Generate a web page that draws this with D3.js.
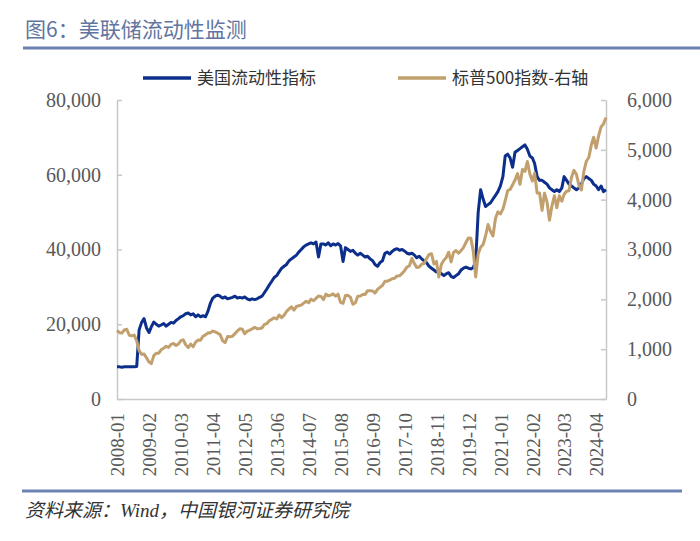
<!DOCTYPE html>
<html><head><meta charset="utf-8">
<script src="https://cdn.jsdelivr.net/npm/d3@7"></script>
<style>
html,body{margin:0;padding:0;background:#fff;}
svg{display:block;}
</style></head>
<body>
<svg id="chart" width="700" height="541"></svg>
<script>
// ---- data ----
const startMonth = "2008-01";
const endMonth = "2024-08";
const xTickLabels = ["2008-01","2009-02","2010-03","2011-04","2012-05","2013-06","2014-07","2015-08","2016-09","2017-10","2018-11","2019-12","2021-01","2022-02","2023-03","2024-04"];
const leftTicks = [0,20000,40000,60000,80000];
const rightTicks = [0,1000,2000,3000,4000,5000,6000];
const seriesNames = ["美国流动性指标","标普500指数-右轴"];
const liquidity = [
 8600,8600,8500,8600,8600,8600,8600,8600,8700,18500,20500,21500,
 19000,17800,19300,20600,20000,19500,19800,20200,19500,20000,20500,20300,
 21000,21500,22000,22300,22800,23000,22500,22800,22000,22500,22000,22300,
 22000,23500,25500,27000,27500,27800,27500,27000,27300,26800,27000,27200,
 27500,27000,27200,27000,27300,26800,26500,26800,26600,26800,27200,27500,
 28500,29500,30500,31500,32500,33000,34000,35000,35500,36000,37000,37500,
 38000,38500,39300,40000,40700,41200,41500,41800,41500,42000,38000,41500,
 41500,41200,41800,41000,41500,41200,41600,41000,36800,40500,40000,39500,
 39800,39000,38500,39000,38500,38000,38200,37500,37000,36000,35500,36500,
 37000,39000,39300,38800,39500,40000,40200,39800,40000,39600,39000,38800,
 39000,38500,37800,38200,37500,37000,36500,35500,35000,34500,34000,34200,
 33500,33000,33500,33800,32800,32500,33000,33500,34500,35000,35300,35000,
 34800,35200,37000,50000,56000,53500,51500,52000,52500,53500,54500,55500,
 57000,59500,65000,65500,64500,62000,66000,66500,67000,67500,68000,66800,
 65000,64500,63000,59500,58500,58500,58000,57500,56500,56000,55500,56000,
 55500,56500,59500,58500,57500,57000,56500,56000,56500,57500,59000,59500,
 59000,58500,57500,57000,56000,57000,55500,56000
];
const sp500 = [
 1378,1330,1322,1385,1400,1280,1267,1283,1166,969,896,903,
 826,740,710,870,919,919,987,1021,1057,1036,1096,1115,
 1074,1104,1169,1187,1089,1031,1102,1049,1141,1183,1181,1258,
 1286,1327,1326,1364,1345,1321,1292,1170,1131,1253,1247,1258,
 1312,1366,1408,1398,1310,1362,1379,1407,1441,1412,1416,1426,
 1498,1515,1569,1598,1631,1606,1686,1633,1682,1757,1806,1848,
 1783,1859,1872,1884,1924,1960,1931,2003,1972,2018,2068,2059,
 1995,2105,2068,2086,2107,2063,2104,1940,1920,2079,2080,2044,
 1900,1932,2060,2065,2097,2099,2174,2171,2168,2126,2199,2239,
 2279,2364,2363,2384,2412,2423,2470,2472,2519,2575,2648,2674,
 2824,2714,2641,2648,2705,2718,2816,2902,2914,2712,2760,2450,
 2704,2784,2834,2946,2752,2942,2980,2926,2977,3038,3141,3231,
 3226,2954,2450,2912,3044,3100,3271,3500,3363,3270,3622,3756,
 3714,3811,3973,4181,4204,4298,4395,4523,4308,4605,4567,4766,
 4516,4374,4530,4132,4132,3785,4130,3955,3586,3872,4080,3840,
 4077,3970,4109,4169,4180,4450,4589,4508,4288,4194,4568,4770,
 4846,5096,5254,5036,5278,5460,5522,5648
];

// ---- layout ----
const W = 700, H = 541;
const plot = {left:117, right:606, top:100, bottom:399};
const colors = {blue:"#0d2f8c", tan:"#c1a06e", frame:"#c8c8c8", accent:"#6b82b2", tick:"#595959", title:"#61759f"};

const parse = d3.timeParse("%Y-%m");
const dates = d3.timeMonth.range(parse(startMonth), d3.timeMonth.offset(parse(endMonth),1));

const x = d3.scaleTime().domain([parse(startMonth), parse(endMonth)]).range([plot.left, plot.right]);
const yL = d3.scaleLinear().domain([0,80000]).range([plot.bottom, plot.top]);
const yR = d3.scaleLinear().domain([0,6000]).range([plot.bottom, plot.top]);

const svg = d3.select("#chart");
svg.append("rect").attr("width",W).attr("height",H).attr("fill","#fff");

// title
svg.append("text").attr("x",25).attr("y",37)
  .attr("font-family","'Noto Sans CJK SC', sans-serif").attr("font-size",21)
  .attr("fill",colors.title).text("图6：美联储流动性监测");
svg.append("line").attr("x1",23).attr("x2",700).attr("y1",48).attr("y2",48)
  .attr("stroke",colors.accent).attr("stroke-width",3);

// legend
const leg = svg.append("g");
const legItems = [{name:seriesNames[0], c:colors.blue, x:143},{name:seriesNames[1], c:colors.tan, x:398}];
legItems.forEach(it=>{
  leg.append("line").attr("x1",it.x).attr("x2",it.x+48).attr("y1",78).attr("y2",78)
    .attr("stroke",it.c).attr("stroke-width",3.5);
  leg.append("text").attr("x",it.x+54).attr("y",78).attr("dy","0.36em")
    .attr("font-family","'Noto Sans CJK SC', sans-serif").attr("font-size",17)
    .attr("fill","#333").text(it.name);
});

// frame / axes
const fmt = d3.format(",");
const gL = svg.append("g").attr("transform",`translate(${plot.left},0)`)
  .call(d3.axisLeft(yL).tickValues(leftTicks).tickFormat(fmt).tickSizeInner(-5).tickSizeOuter(0).tickPadding(16));
const gR = svg.append("g").attr("transform",`translate(${plot.right},0)`)
  .call(d3.axisRight(yR).tickValues(rightTicks).tickFormat(fmt).tickSizeInner(-5).tickSizeOuter(0).tickPadding(21));
const gB = svg.append("g").attr("transform",`translate(0,${plot.bottom})`)
  .call(d3.axisBottom(x).tickValues(xTickLabels.map(parse)).tickFormat(d3.timeFormat("%Y-%m")).tickSize(0).tickSizeOuter(0));
[gL,gR,gB].forEach(g=>{
  g.select(".domain").attr("stroke",colors.frame).attr("stroke-width",1.5);
  g.selectAll(".tick line").attr("stroke",colors.frame).attr("stroke-width",1.5);
  g.selectAll("text").attr("font-family","'Liberation Serif', serif").attr("fill",colors.tick);
});
gL.selectAll("text").attr("font-size",20);
gR.selectAll("text").attr("font-size",20);
gB.selectAll(".tick text").attr("font-size",19)
  .attr("transform","rotate(-90)").attr("text-anchor","end")
  .attr("x",-14).attr("y",0).attr("dy","0.35em");

// lines
const lineL = d3.line().x((d,i)=>x(dates[i])).y(d=>yL(d));
const lineR = d3.line().x((d,i)=>x(dates[i])).y(d=>yR(d));
svg.append("path").datum(liquidity).attr("d",lineL).attr("fill","none")
  .attr("stroke",colors.blue).attr("stroke-width",3).attr("stroke-linejoin","round");
svg.append("path").datum(sp500).attr("d",lineR).attr("fill","none")
  .attr("stroke",colors.tan).attr("stroke-width",3).attr("stroke-linejoin","round");

// footer
svg.append("line").attr("x1",22).attr("x2",682).attr("y1",491).attr("y2",491)
  .attr("stroke",colors.accent).attr("stroke-width",3);
svg.append("text").attr("x",25).attr("y",517)
  .attr("font-family","'Liberation Serif','Noto Sans CJK SC', serif").attr("font-style","italic")
  .attr("font-size",19).attr("fill","#333").text("资料来源：Wind，中国银河证券研究院");
</script>
</body></html>
